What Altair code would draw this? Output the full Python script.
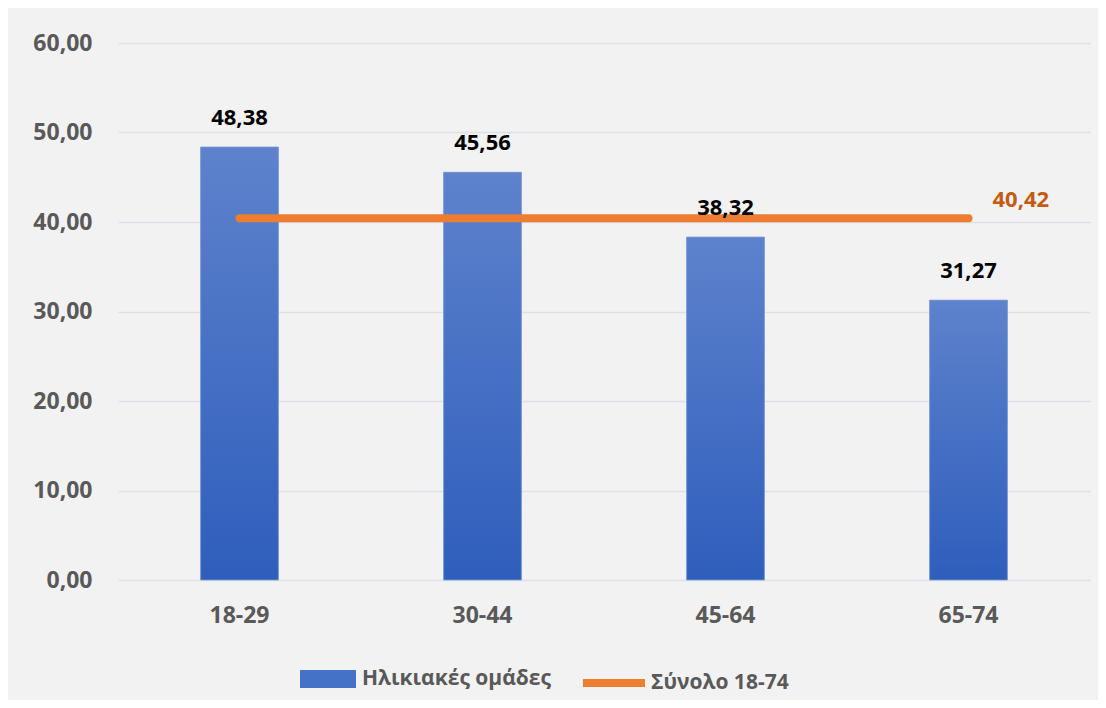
import altair as alt
import pandas as pd

ages = ["18-29", "30-44", "45-64", "65-74"]
values = [48.38, 45.56, 38.32, 31.27]
total_values = [40.42, 40.42, 40.42, 40.42]
bar_series = "Ηλικιακές ομάδες"
line_series = "Σύνολο 18-74"
y_ticks = [0, 10, 20, 30, 40, 50, 60]

df = pd.DataFrame({
    "age": ages,
    "value": values,
    "total": total_values,
    "series": [bar_series] * len(ages),
    "lineSeries": [line_series] * len(ages),
})

FONT = "Open Sans"
GREY = "#595959"

x = alt.X("age:N", sort=ages,
          scale=alt.Scale(paddingInner=0.68, paddingOuter=0.34),
          axis=alt.Axis(title=None, labelAngle=0, ticks=False, domain=False,
                        labelPadding=24, labelFontSize=23, labelFont=FONT,
                        labelFontWeight="bold", labelColor=GREY))
y = alt.Y("value:Q", scale=alt.Scale(domain=[0, 60], nice=False),
          axis=alt.Axis(title=None, values=y_ticks, ticks=False, domain=False,
                        labelExpr="replace(format(datum.value, '.2f'), '.', ',')",
                        labelPadding=26, labelFontSize=23, labelFont=FONT,
                        labelFontWeight="bold", labelColor=GREY,
                        grid=True, gridColor="#dde1e6", gridWidth=1.5))

base = alt.Chart(df).transform_calculate(
    label="replace(format(datum.value, '.2f'), '.', ',')",
    tlabel="replace(format(datum.total, '.2f'), '.', ',')",
)

bars_legend = base.mark_bar().encode(
    x=x, y=y,
    fill=alt.Fill("series:N",
                  scale=alt.Scale(domain=[bar_series], range=["#4472c4"]),
                  legend=alt.Legend(title=None, orient="none", legendX=182, legendY=608,
                                    symbolType="M-1,-0.32H1V0.32H-1Z", symbolSize=3136,
                                    symbolStrokeWidth=0, labelOffset=6, labelLimit=400,
                                    labelFont=FONT, labelFontSize=21, labelFontWeight="bold",
                                    labelColor=GREY)),
)

gradient = alt.Gradient(
    gradient="linear",
    stops=[alt.GradientStop(color="#5e82cc", offset=0),
           alt.GradientStop(color="#2e5ebc", offset=1)],
    x1=0, x2=0, y1=0, y2=1,
)
bars = base.mark_bar(color=gradient, stroke="#7f9ddb", strokeWidth=0.8).encode(x=x, y=y)

line = base.mark_line(strokeWidth=8, strokeCap="round").encode(
    x=x,
    y=alt.Y("total:Q"),
    stroke=alt.Stroke("lineSeries:N",
                      scale=alt.Scale(domain=[line_series], range=["#ed7d31"]),
                      legend=alt.Legend(title=None, orient="none", legendX=461, legendY=605,
                                        symbolType="stroke", symbolSize=3844,
                                        symbolStrokeWidth=8, labelOffset=2, labelLimit=400,
                                        labelFont=FONT, labelFontSize=21, labelFontWeight="bold",
                                        labelColor=GREY)),
)

labels = base.mark_text(baseline="bottom", dy=-17, font=FONT, fontSize=22,
                        fontWeight="bold", color="#000000").encode(
    x=x, y=y, text="label:N")

total_label = base.transform_filter(alt.datum.age == ages[-1]).mark_text(
    align="left", baseline="middle", dx=24, dy=-18, font=FONT, fontSize=22,
    fontWeight="bold", color="#c55a11").encode(
    x=x, y=alt.Y("total:Q"), text="tlabel:N")

chart = alt.layer(bars_legend, bars, line, labels, total_label).properties(
    width=972, height=537,
    background="#f2f2f2",
    padding={"left": 110, "top": 35, "right": 8, "bottom": 120},
    autosize=alt.AutoSizeParams(type="none"),
).configure_view(stroke=None)

chart.save("out.html", embed_options={"renderer": "svg", "actions": False})
